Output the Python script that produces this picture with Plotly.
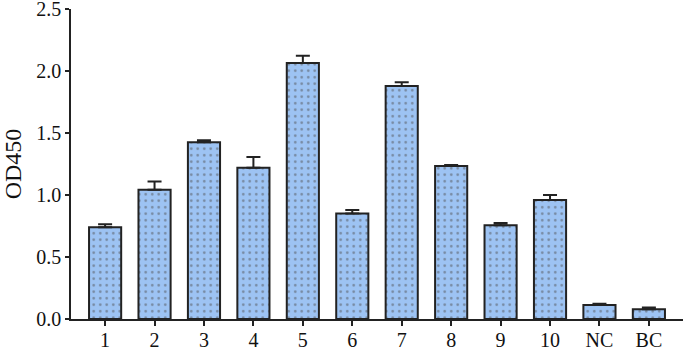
import plotly.graph_objects as go

categories = ["1", "2", "3", "4", "5", "6", "7", "8", "9", "10", "NC", "BC"]
od450 = [0.740, 1.043, 1.425, 1.220, 2.064, 0.850, 1.880, 1.234, 0.757, 0.960, 0.112, 0.078]
err_up = [0.024, 0.065, 0.016, 0.086, 0.059, 0.029, 0.030, 0.008, 0.017, 0.040, 0.011, 0.014]
y_ticks = [0.0, 0.5, 1.0, 1.5, 2.0, 2.5]

fig = go.Figure()
fig.add_trace(go.Bar(
    x=categories,
    y=od450,
    width=0.65,
    marker=dict(
        color="#9dc3f3",
        line=dict(color="#222222", width=2),
        pattern=dict(shape=".", fillmode="overlay", fgcolor="#4d4d4d",
                     size=6.5, solidity=0.13),
    ),
    error_y=dict(type="data", symmetric=False, array=err_up,
                 arrayminus=[0] * len(err_up),
                 color="#222222", thickness=2, width=7),
))

tick_font = dict(family="Liberation Serif", size=20, color="#111111")
title_font = dict(family="Liberation Serif", size=24, color="#111111")
fig.update_layout(
    width=685, height=350,
    margin=dict(l=71, r=2, t=9, b=31, autoexpand=False),
    paper_bgcolor="white", plot_bgcolor="white",
    showlegend=False,
    font=tick_font,
)
fig.update_xaxes(
    type="category", range=[-0.69, 11.69], automargin=False,
    showline=True, linecolor="#222222", linewidth=1.5,
    ticks="outside", ticklen=5, tickwidth=1.5, tickcolor="#222222",
    showgrid=False, zeroline=False, tickfont=tick_font,
    ticklabeloverflow="allow", ticklabelstandoff=-3,
)
fig.update_yaxes(
    range=[0, 2.5], tickvals=y_ticks, tickformat=".1f", automargin=False,
    showline=True, linecolor="#222222", linewidth=1.5,
    ticks="outside", ticklen=4, tickwidth=1.5, tickcolor="#222222",
    showgrid=False, zeroline=False, tickfont=tick_font,
    ticklabeloverflow="allow",
    title=dict(text="OD450", font=title_font, standoff=17),
)
fig.write_html("out.html", config={"displayModeBar": False},
               post_script="document.body.style.margin='0px';")
